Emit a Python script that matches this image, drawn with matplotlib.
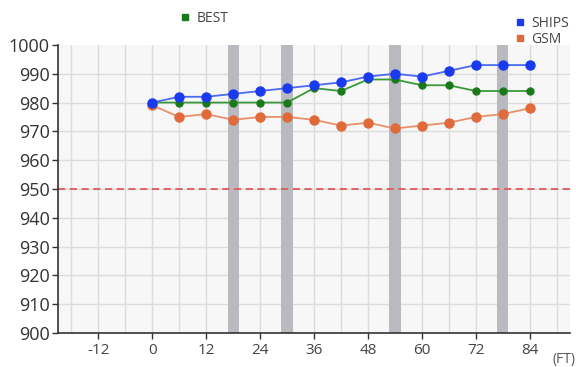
import matplotlib
matplotlib.use("Agg")
import matplotlib.pyplot as plt
from matplotlib.lines import Line2D

plt.rcParams['font.family'] = ['Open Sans', 'DejaVu Sans']

# Forecast hours and pressure series (hPa)
hours = [0, 6, 12, 18, 24, 30, 36, 42, 48, 54, 60, 66, 72, 78, 84]
ships = [980, 982, 982, 983, 984, 985, 986, 987, 989, 990, 989, 991, 993, 993, 993]
best = [980, 980, 980, 980, 980, 980, 985, 984, 988, 988, 986, 986, 984, 984, 984]
gsm = [979, 975, 976, 974, 975, 975, 974, 972, 973, 971, 972, 973, 975, 976, 978]

# Highlighted forecast times
band_hours = [18, 30, 54, 78]
threshold = 950

x_ticks = [-12, 0, 12, 24, 36, 48, 60, 72, 84]
y_ticks = list(range(900, 1001, 10))

fig = plt.figure(figsize=(5.76, 3.67), dpi=100)
ax = fig.add_axes([0.1007, 0.0926, 0.889, 0.785])
ax.set_facecolor('#f7f7f7')

ax.set_xlim(-21, 93)
ax.set_ylim(900, 1000)

# grid every 6 h vertically, every 10 hPa horizontally
for gx in range(-18, 93, 6):
    ax.axvline(gx, color='#dcdcdc', lw=1.0, zorder=0)
for gy in y_ticks[1:-1]:
    ax.axhline(gy, color='#dcdcdc', lw=1.0, zorder=0)

for b in band_hours:
    ax.axvspan(b - 1.25, b + 1.25, color='#b9b9c0', lw=0, zorder=1)

ax.axhline(threshold, color='#e05a5a', lw=1.3, ls=(0, (4, 2.5)), zorder=2)

ax.plot(hours, gsm, color='#e8906a', lw=1.3, marker='o', ms=6.5,
        mfc='#e06a3a', mec='#e06a3a', zorder=3)
ax.plot(hours, best, color='#3a9a3a', lw=1.3, marker='o', ms=5,
        mfc='#1a7a1a', mec='#1a7a1a', zorder=4)
ax.plot(hours, ships, color='#4a6af0', lw=1.3, marker='o', ms=6.5,
        mfc='#1a3af0', mec='#1a3af0', zorder=5)

ax.set_xticks(x_ticks)
ax.set_xticklabels([str(t) for t in x_ticks])
ax.set_yticks(y_ticks)
ax.tick_params(axis='x', labelsize=11, colors='#333333', length=4, width=1,
               pad=3, labelcolor='#444444')
ax.tick_params(axis='y', labelsize=13, length=4, width=1, pad=2,
               labelcolor='#333333', colors='#333333')

for side in ['top', 'right']:
    ax.spines[side].set_visible(False)
for side in ['left', 'bottom']:
    ax.spines[side].set_color('#333333')
    ax.spines[side].set_linewidth(1.2)

fig.text(0.96, 0.0, '(FT)', fontsize=10, color='#555555', ha='left', va='bottom')

# legends
h_best = Line2D([], [], ls='none', marker='s', ms=4, color='#1a7a1a')
h_ships = Line2D([], [], ls='none', marker='s', ms=4, color='#1a3af0')
h_gsm = Line2D([], [], ls='none', marker='s', ms=4, color='#e06a3a')

fig.legend([h_best], ['BEST'], loc='center', bbox_to_anchor=(0.355, 0.95),
           frameon=False, fontsize=10, handlelength=0.6, handletextpad=0.5,
           labelcolor='#444444')
fig.legend([h_ships, h_gsm], ['SHIPS', 'GSM'], loc='upper right',
           bbox_to_anchor=(1.01, 0.99), frameon=False, fontsize=10,
           handlelength=0.6, handletextpad=0.5, labelspacing=0.05,
           labelcolor='#444444')

fig.savefig('out.png', dpi=100, facecolor='white')
